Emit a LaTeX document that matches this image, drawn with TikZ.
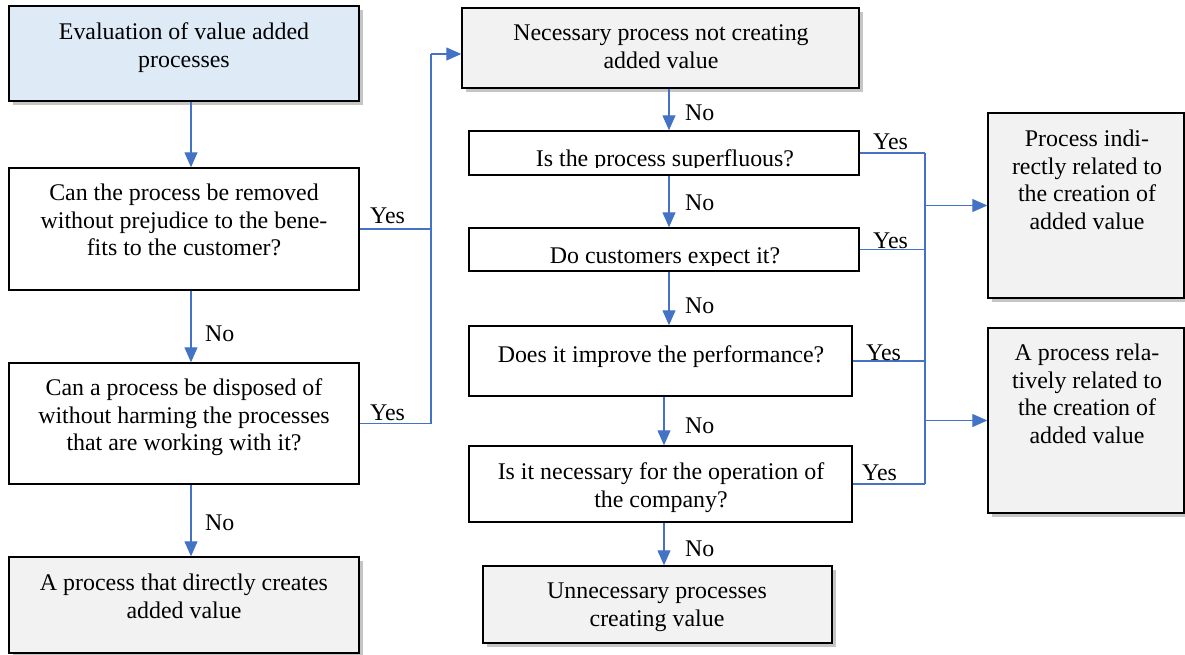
\documentclass[tikz,border=0pt]{standalone}
\usepackage{fontspec}
\setmainfont{Liberation Serif}
\usetikzlibrary{arrows.meta, shadows}
\definecolor{bleuFleche}{RGB}{68,114,196}
\definecolor{bleuPale}{RGB}{222,235,247}
\definecolor{grisPale}{RGB}{242,242,242}

\begin{document}
\begin{tikzpicture}[x=1pt,y=-1pt]
        \tikzset{
          boite/.style={
            draw=black,line width=1.4pt,fill=white,inner sep=0pt,
          },
          boite ombre/.style={boite,
            drop shadow={shadow xshift=4pt,shadow yshift=-4pt,fill=black!45,opacity=0.5},
          },
          texte/.style={
            align=center,anchor=north,inner sep=0pt,yshift=-3pt,
            font=\fontsize{23.9}{27.5}\selectfont,
            execute at begin node=\strut,
          },
          etiquette/.style={anchor=base west,inner sep=0pt,yshift=-3pt,font=\fontsize{23.9}{27.5}\selectfont},
          trait/.style={draw=bleuFleche,line width=1.1pt},
          fleche/.style={trait,-{Triangle[length=15pt,width=13pt]}},
          }
        \useasboundingbox (0,0) rectangle (1185,655);

        % colonne de gauche
        \node[boite ombre, fill=bleuPale, minimum width=350pt, minimum height=95pt] (eval) at (184,53.5) {};
        \node[texte] (evalT) at (184,19.75) {Evaluation of value added\\processes};
        \node[boite, minimum width=350pt, minimum height=122pt] (q1) at (184,229) {};
        \node[texte] (q1T) at (184,180.75) {Can the process be removed\\without prejudice to the bene-\\fits to the customer?};
        \node[boite, minimum width=350pt, minimum height=121pt] (q2) at (184,423.5) {};
        \node[texte] (q2T) at (184,375.75) {Can a process be disposed of\\without harming the processes\\that are working with it?};
        \node[boite ombre, fill=grisPale, minimum width=350pt, minimum height=96pt] (direct) at (184,605) {};
        \node[texte] (directT) at (184,570.75) {A process that directly creates\\added value};

        % colonne du milieu
        \node[boite ombre, fill=grisPale, minimum width=397pt, minimum height=80pt] (nec) at (660.5,48) {};
        \node[texte] (necT) at (661,21.75) {Necessary process not creating\\added value};
        \node[boite, minimum width=390pt, minimum height=44pt] (s1) at (664,153) {};
        \node[boite, minimum width=390pt, minimum height=43pt] (s2) at (664,249.5) {};
        \begin{scope}
          \clip (469,131) rectangle (859,167.5);
          \node[texte] (s1T) at (665,143.75) {Is the process superfluous?};
        \end{scope}
        \begin{scope}
          \clip (469,228) rectangle (859,265);
          \node[texte] (s2T) at (665,240.75) {Do customers expect it?};
        \end{scope}
        \node[boite, minimum width=383pt, minimum height=70pt] (s3) at (660.5,361) {};
        \node[texte] (s3T) at (661,339.75) {Does it improve the performance?};
        \node[boite, minimum width=383pt, minimum height=76pt] (s4) at (660.5,484) {};
        \node[texte] (s4T) at (661,459.75) {Is it necessary for the operation of\\the company?};
        \node[boite ombre, fill=grisPale, minimum width=349pt, minimum height=77pt] (inutile) at (657.5,604.5) {};
        \node[texte] (inutileT) at (657,579.75) {Unnecessary processes\\creating value};

        % colonne de droite
        \node[boite ombre, fill=grisPale, minimum width=196pt, minimum height=185pt] (r1) at (1086,205.5) {};
        \node[texte] (r1T) at (1087,126.75) {Process indi-\\rectly related to\\the creation of\\added value};
        \node[boite ombre, fill=grisPale, minimum width=196pt, minimum height=185pt] (r2) at (1086,420.5) {};
        \node[texte] (r2T) at (1087,340.75) {A process rela-\\tively related to\\the creation of\\added value};

        % fleches "No"
        \coordinate (axeG) at (191,0);
        \coordinate (axeC) at (669,0);
        \coordinate (axeC2) at (664,0);
        \draw[fleche] (eval.south -| axeG) -- (q1.north -| axeG);
        \draw[fleche] (q1.south -| axeG) -- (q2.north -| axeG);
        \draw[fleche] (q2.south -| axeG) -- (direct.north -| axeG);
        \draw[fleche] (nec.south -| axeC) -- (s1.north -| axeC);
        \draw[fleche] (s1.south -| axeC) -- (s2.north -| axeC);
        \draw[fleche] (s2.south -| axeC) -- (s3.north -| axeC);
        \draw[fleche] (s3.south -| axeC2) -- (s4.north -| axeC2);
        \draw[fleche] (s4.south -| axeC2) -- (inutile.north -| axeC2);
        \node[etiquette] (no1) at (205,338) {No};
        \node[etiquette] (no2) at (205,527) {No};
        \node[etiquette] (no3) at (685,118) {No};
        \node[etiquette] (no4) at (685,208) {No};
        \node[etiquette] (no5) at (685,310) {No};
        \node[etiquette] (no6) at (685,430) {No};
        \node[etiquette] (no7) at (685,553) {No};

        % fleches "Yes"
        \coordinate (jonctionG) at (431,54);
        \draw[trait] (q1.east) -| (jonctionG);
        \draw[trait] (q2.east) -| (jonctionG);
        \draw[fleche] (jonctionG) -- (jonctionG -| nec.west);
        \coordinate (jonctionD) at (925,0);
        \draw[trait] (s1.east) -- (s1.east -| jonctionD);
        \draw[trait] (s2.east) -- (s2.east -| jonctionD);
        \draw[trait] (s3.east) -- (s3.east -| jonctionD);
        \draw[trait] (s4.east) -- (s4.east -| jonctionD);
        \draw[trait] (s1.east -| jonctionD) -- (s4.east -| jonctionD);
        \draw[fleche] (r1.west -| jonctionD) -- (r1.west);
        \draw[fleche] (r2.west -| jonctionD) -- (r2.west);
        \node[etiquette] (yes1) at (370,220) {Yes};
        \node[etiquette] (yes2) at (370,417) {Yes};
        \node[etiquette] (yes3) at (873,147) {Yes};
        \node[etiquette] (yes4) at (873,245) {Yes};
        \node[etiquette] (yes5) at (866,357) {Yes};
        \node[etiquette] (yes6) at (862,477) {Yes};
      \end{tikzpicture}
\end{document}
